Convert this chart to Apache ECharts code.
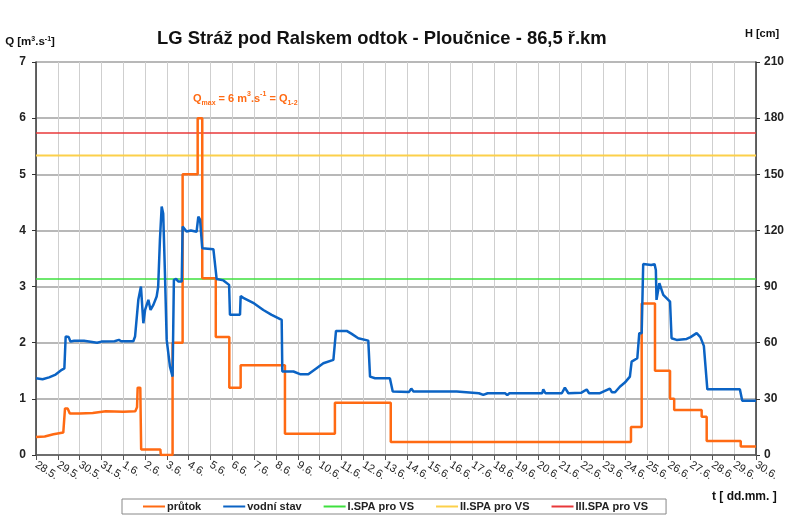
<!DOCTYPE html>
<html>
<head>
<meta charset="utf-8">
<script src="https://cdn.jsdelivr.net/npm/echarts@6/dist/echarts.min.js"></script>
<style>
  html, body { margin: 0; padding: 0; background: #fff; }
  #chart { width: 807px; height: 525px; }
</style>
</head>
<body>
<div id="chart"></div>
<script>
// x = days from 28.5.
const dayLabels = ['28.5.', '29.5.', '30.5.', '31.5.', '1.6.', '2.6.', '3.6.', '4.6.', '5.6.', '6.6.',
  '7.6.', '8.6.', '9.6.', '10.6.', '11.6.', '12.6.', '13.6.', '14.6.', '15.6.', '16.6.', '17.6.',
  '18.6.', '19.6.', '20.6.', '21.6.', '22.6.', '23.6.', '24.6.', '25.6.', '26.6.', '27.6.', '28.6.',
  '29.6.', '30.6.']

// průtok Q [m3/s]
const prutok = [
  [0, 0.32], [0.4, 0.33], [0.8, 0.37], [1.25, 0.4], [1.33, 0.83], [1.45, 0.83], [1.55, 0.74],
  [2.0, 0.74], [2.6, 0.75], [3.2, 0.78], [4.0, 0.77], [4.55, 0.78], [4.63, 0.85], [4.66, 1.2],
  [4.78, 1.2], [4.82, 0.1], [5.7, 0.1], [5.72, 0], [6.26, 0], [6.26, 2.0], [6.72, 2.0], [6.72, 5.0],
  [7.41, 5.0], [7.41, 6.0], [7.62, 6.0], [7.62, 3.15], [8.24, 3.15], [8.24, 2.1], [8.86, 2.1],
  [8.86, 1.2], [9.38, 1.2], [9.38, 1.6], [11.41, 1.6], [11.41, 0.38], [13.7, 0.38], [13.7, 0.93],
  [16.26, 0.93], [16.26, 0.23], [27.27, 0.23], [27.27, 0.5], [27.76, 0.5], [27.76, 2.7],
  [28.37, 2.7], [28.37, 1.5], [29.06, 1.5], [29.06, 1.0], [29.25, 1.0], [29.25, 0.8], [30.51, 0.8],
  [30.51, 0.68], [30.74, 0.68], [30.74, 0.25], [32.3, 0.25], [32.3, 0.15], [33, 0.15]
]

// vodní stav H [cm]
const vodniStav = [
  [0, 41], [0.3, 40.5], [0.6, 41.5], [0.9, 43], [1.18, 45.5], [1.3, 46.3], [1.36, 63.3], [1.5, 63],
  [1.58, 60.6], [1.75, 61], [2.2, 61], [2.5, 60.5], [2.8, 60], [3.0, 60.6], [3.6, 60.8], [3.8, 61.5],
  [3.9, 60.8], [4.46, 60.8], [4.54, 63.3], [4.69, 82.9], [4.81, 90], [4.92, 70.4], [5.0, 77.5],
  [5.15, 82.9], [5.25, 77.5], [5.38, 80.2], [5.53, 84.7], [5.6, 90], [5.68, 115], [5.76, 132.8],
  [5.83, 129], [5.91, 97.2], [5.99, 61.5], [6.14, 47.2], [6.26, 41.9], [6.32, 93.6], [6.42, 94.1],
  [6.52, 92.7], [6.68, 92.7], [6.72, 122.1], [6.9, 119.4], [7.1, 120], [7.36, 119.3], [7.44, 127.4],
  [7.52, 125.8], [7.62, 110.5], [8.13, 110], [8.28, 94], [8.59, 93.3], [8.85, 90.9], [8.89, 74.9],
  [9.35, 74.9], [9.38, 85], [9.5, 84], [10.0, 81], [10.42, 77.5], [10.8, 74.9], [11.26, 72.2],
  [11.29, 44.6], [11.34, 44.0], [11.8, 44.6], [12.1, 43.2], [12.48, 43.2], [12.86, 46.4],
  [13.17, 49], [13.63, 50.8], [13.75, 66.3], [14.24, 66.3], [14.47, 64.7], [14.77, 62.4],
  [15.23, 61.1], [15.31, 41.9], [15.54, 41], [16.22, 41], [16.35, 33.9], [17.1, 33.7], [17.2, 35.5],
  [17.3, 33.9], [19.28, 33.9], [19.35, 33.0], [20.3, 33], [20.35, 34], [20.5, 32.1], [20.7, 33],
  [21.5, 33], [21.6, 32], [21.7, 33], [23.2, 33], [23.25, 35.1], [23.35, 33], [24.1, 33],
  [24.24, 36], [24.4, 33], [25.0, 33.3], [25.24, 35], [25.35, 33], [25.85, 33], [26.3, 35.5],
  [26.4, 33.5], [26.54, 33.5], [26.76, 36.5], [26.99, 38.7], [27.22, 41.9], [27.3, 49.9],
  [27.56, 51.7], [27.65, 65.1], [27.76, 65.1], [27.83, 102.1], [28.2, 101.5], [28.35, 102],
  [28.41, 98.9], [28.44, 82.9], [28.57, 91.8], [28.75, 85.6], [29.06, 82], [29.13, 62.4],
  [29.36, 61.5], [29.82, 62], [30.0, 63], [30.28, 65.1], [30.45, 63], [30.61, 58.3], [30.7, 58],
  [30.77, 35.1], [32.26, 35.1], [32.37, 29], [33, 29]
]

// stupně povodňové aktivity [cm]
const spaNames = ['I.SPA pro VS', 'II.SPA pro VS', 'III.SPA pro VS']
const spaLevels = [94, 160, 172]
const spaColors = ['#3ee03e', '#fcd04a', '#e8383a']

const chart = echarts.init(document.getElementById('chart'))

const font = 'Liberation Sans, Arial, sans-serif'
const orange = '#ff6a13'

const series = [
  {
    name: 'průtok', type: 'line', data: prutok, yAxisIndex: 0, symbol: 'none',
    lineStyle: { color: orange, width: 2.5 }, itemStyle: { color: orange }, z: 4
  },
  {
    name: 'vodní stav', type: 'line', data: vodniStav, yAxisIndex: 1, symbol: 'none',
    lineStyle: { color: '#0b63c4', width: 2.5 }, itemStyle: { color: '#0b63c4' }, z: 5
  }
]
spaNames.forEach((n, i) => {
  series.push({
    name: n, type: 'line', yAxisIndex: 1, symbol: 'none', silent: true,
    data: [[0, spaLevels[i]], [33, spaLevels[i]]],
    lineStyle: { color: spaColors[i], width: i === 1 ? 2 : 1.5 }, itemStyle: { color: spaColors[i] }, z: 3
  })
})

const subSup = {
  a: { fontSize: 11, fontWeight: 'bold', color: orange, lineHeight: 16, fontFamily: font },
  s: { fontSize: 7, fontWeight: 'bold', color: orange, lineHeight: 8, verticalAlign: 'bottom', fontFamily: font },
  p: { fontSize: 7, fontWeight: 'bold', color: orange, lineHeight: 8, verticalAlign: 'top', fontFamily: font }
}

chart.setOption({
  animation: false,
  textStyle: { fontFamily: font },
  title: [
    {
      text: 'LG Stráž pod Ralskem odtok - Ploučnice - 86,5 ř.km',
      left: 152, top: 25,
      textStyle: { fontSize: 18.4, fontWeight: 'bold', color: '#111', fontFamily: font }
    },
    {
      text: '{a|Q}{s|max}{a| = 6 m}{p|3}{a|.s}{p|-1}{a| = Q}{s|1-2}',
      left: 193, top: 91, padding: 0,
      textStyle: { fontSize: 11, color: orange, rich: subSup }
    }
  ],
  legend: {
    data: ['průtok', 'vodní stav'].concat(spaNames),
    left: 122, top: 499, width: 700,
    padding: [2, 18, 2, 21],
    borderColor: '#888', borderWidth: 1,
    icon: 'rect', itemWidth: 22, itemHeight: 2, itemGap: 22,
    textStyle: { fontSize: 11, fontWeight: 'bold', color: '#222', padding: [0, 0, 0, -3] }
  },
  grid: { left: 36, right: 51, top: 62, bottom: 70 },
  xAxis: {
    type: 'value', min: 0, max: 33, interval: 1,
    axisLine: { lineStyle: { color: '#555', width: 1.5 } },
    axisTick: { show: true, length: 5, lineStyle: { color: '#555' } },
    splitLine: { show: true, lineStyle: { color: '#cfcfcf', width: 1 } },
    axisLabel: {
      rotate: -32, fontSize: 11, color: '#222', margin: 9,
      formatter: v => dayLabels[v]
    }
  },
  yAxis: [
    {
      type: 'value', min: 0, max: 7, interval: 1,
      name: 'Q [m{sup|3}.s{sup|-1}]', nameLocation: 'end', nameGap: 14,
      nameTextStyle: {
        fontSize: 11.5, fontWeight: 'bold', color: '#111', padding: [0, 12, 0, 0],
        rich: { sup: { fontSize: 7, fontWeight: 'bold', verticalAlign: 'top', padding: [0, 0, 5, 0] } }
      },
      axisLine: { show: true, lineStyle: { color: '#333', width: 1.5 } },
      axisTick: { show: true, length: 4 },
      axisLabel: { fontSize: 12, fontWeight: 'bold', color: '#222', margin: 10 },
      splitLine: { show: true, lineStyle: { color: '#a0a0a0', width: 1.5 } }
    },
    {
      type: 'value', min: 0, max: 210, interval: 30, position: 'right',
      name: 'H [cm]', nameLocation: 'end', nameGap: 23,
      nameTextStyle: { fontSize: 11, fontWeight: 'bold', color: '#111', padding: [0, 0, 0, 12] },
      axisLine: { show: true, lineStyle: { color: '#333', width: 1.5 } },
      axisTick: { show: true, length: 4 },
      axisLabel: { fontSize: 12, fontWeight: 'bold', color: '#222', margin: 8 },
      splitLine: { show: false }
    }
  ],
  graphic: [
    {
      type: 'text', left: 712, top: 491,
      style: { text: 't [ dd.mm. ]', fontSize: 12, fontWeight: 'bold', fill: '#111', fontFamily: font }
    }
  ],
  series
})
</script>
</body>
</html>
